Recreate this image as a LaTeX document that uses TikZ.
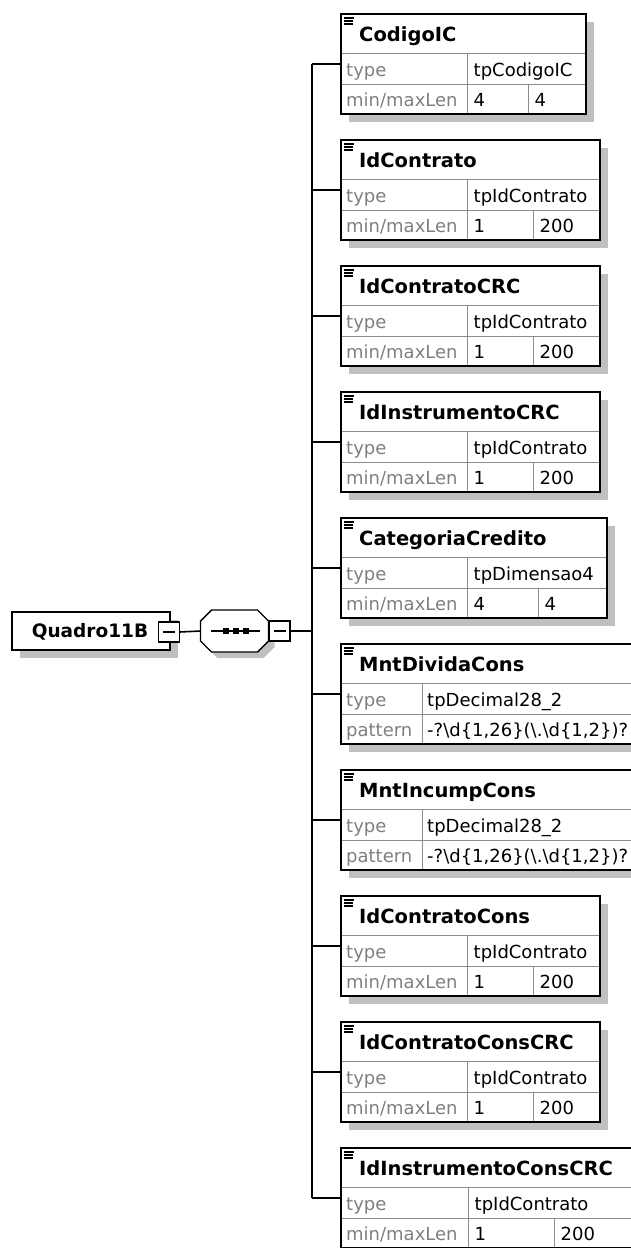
\documentclass[tikz,border=0pt]{standalone}
\usepackage{fontspec}
\setmainfont{DejaVu Sans}
\usetikzlibrary{calc}
\definecolor{shad}{HTML}{C0C0C0}
\definecolor{lblc}{HTML}{808080}
\definecolor{gridc}{HTML}{8C8C8C}
\tikzset{
  frameline/.style={draw=black, line width=1.6pt},
  gridline/.style={draw=gridc, line width=1pt},
  conn/.style={draw=black, line width=1.6pt},
  boxbase/.style={fill=white, anchor=north west, inner sep=0pt, outer sep=0pt},
  ttl/.style={anchor=base west, inner sep=0pt, font=\fontsize{19.5}{22}\selectfont\bfseries},
  lab/.style={anchor=base west, inner sep=0pt, text=lblc, font=\fontsize{18}{20}\selectfont},
  val/.style={anchor=base west, inner sep=0pt, text=black, font=\fontsize{18}{20}\selectfont},
  btn/.style={draw=black, line width=1.2pt, fill=white, minimum width=21pt, minimum height=20pt, inner sep=0pt, outer sep=0pt},
  iconline/.style={draw=black, line width=1.1pt},
}
% id top right col1 col2 title type min max
\newcommand\xsdbox[9]{%
  \fill[shad] (349,#2+8) rectangle (#3+8,#2+108);
  \node[boxbase, minimum width=#3-341, minimum height=100] (#1) at (341,#2) {};
  \draw[gridline] (341,#2+39) -- (#3,#2+39);
  \draw[gridline] (341,#2+70) -- (#3,#2+70);
  \draw[gridline] (#4,#2+39) -- (#4,#2+100);
  \draw[gridline] (#5,#2+70) -- (#5,#2+100);
  \draw[frameline] (#1.north west) rectangle (#1.south east);
  \draw[iconline] (344,#2+4) -- (354,#2+4) (344,#2+7) -- (353,#2+7) (344,#2+10) -- (353,#2+10);
  \node[ttl] (#1t) at (359,#2+27.5) {#6};
  \node[lab] (#1l1) at (346,#2+62.5) {type};
  \node[val] (#1v1) at (#4+6.5,#2+62.5) {#7};
  \node[lab] (#1l2) at (346,#2+92.5) {min/maxLen};
  \node[val] (#1v2) at (#4+6.5,#2+92.5) {#8};
  \node[val] (#1v3) at (#5+6.5,#2+92.5) {#9};
  \coordinate (#1c) at (312,#2+50);
  \draw[conn] (#1c) -- (#1c -| #1.west);
}
% id top right col1 title type pattern
\newcommand\xsdpat[7]{%
  \fill[shad] (349,#2+8) rectangle (#3+8,#2+108);
  \node[boxbase, minimum width=#3-341, minimum height=100] (#1) at (341,#2) {};
  \draw[gridline] (341,#2+39) -- (#3,#2+39);
  \draw[gridline] (341,#2+70) -- (#3,#2+70);
  \draw[gridline] (#4,#2+39) -- (#4,#2+100);
  \draw[frameline] (#1.north west) rectangle (#1.south east);
  \draw[iconline] (344,#2+4) -- (354,#2+4) (344,#2+7) -- (353,#2+7) (344,#2+10) -- (353,#2+10);
  \node[ttl] (#1t) at (359,#2+27.5) {#5};
  \node[lab] (#1l1) at (346,#2+62.5) {type};
  \node[val] (#1v1) at (#4+5,#2+62.5) {#6};
  \node[lab] (#1l2) at (346,#2+92.5) {pattern};
  \node[val] (#1v2) at (#4+5,#2+92.5) {#7};
  \coordinate (#1c) at (312,#2+50);
  \draw[conn] (#1c) -- (#1c -| #1.west);
}
\newcommand\patstr{-?\textbackslash d\{1,26\}(\textbackslash .\textbackslash d\{1,2\})?}
\begin{document}
\begin{tikzpicture}[x=1pt,y=-1pt]
\useasboundingbox (0,0) rectangle (630,1248);
\fill[white] (0,0) rectangle (630,1248);

\xsdbox{b1}{14}{586}{467}{528}{CodigoIC}{tpCodigoIC}{4}{4}
\xsdbox{b2}{140}{600}{467}{533}{IdContrato}{tpIdContrato}{1}{200}
\xsdbox{b3}{266}{600}{467}{533}{IdContratoCRC}{tpIdContrato}{1}{200}
\xsdbox{b4}{392}{600}{467}{533}{IdInstrumentoCRC}{tpIdContrato}{1}{200}
\xsdbox{b5}{518}{607}{467}{538}{CategoriaCredito}{tpDimensao4}{4}{4}
\xsdpat{b6}{644}{640}{422}{MntDividaCons}{tpDecimal28\_2}{\patstr}
\xsdpat{b7}{770}{640}{422}{MntIncumpCons}{tpDecimal28\_2}{\patstr}
\xsdbox{b8}{896}{600}{467}{533}{IdContratoCons}{tpIdContrato}{1}{200}
\xsdbox{b9}{1022}{600}{467}{533}{IdContratoConsCRC}{tpIdContrato}{1}{200}
\xsdbox{b10}{1148}{640}{468}{554}{IdInstrumentoConsCRC}{tpIdContrato}{1}{200}

% trunk
\draw[conn] (b1c) -- (b10c);

% root element
\fill[shad] (20,620) rectangle (178,658);
\node[boxbase, minimum width=158, minimum height=38] (root) at (12,612) {};
\draw[frameline] (root.north west) rectangle (root.south east);
\node[anchor=base, inner sep=0pt, font=\fontsize{18.5}{20}\selectfont\bfseries] (roottxt) at (90,637) {Quadro11B};

% sequence compositor
\node[minimum width=68, minimum height=42, inner sep=0pt, outer sep=0pt] (seq) at (234.5,631) {};
\fill[shad] ($(seq.north west)+(17,6)$) -- ($(seq.north east)+(-5,6)$) -- ($(seq.north east)+(6,17)$)
  -- ($(seq.south east)+(6,-5)$) -- ($(seq.south east)+(-5,6)$) -- ($(seq.south west)+(17,6)$)
  -- ($(seq.south west)+(6,-5)$) -- ($(seq.north west)+(6,17)$) -- cycle;
\draw[line width=1.4pt, fill=white] ($(seq.north west)+(11,0)$) -- ($(seq.north east)+(-11,0)$) -- ($(seq.north east)+(0,11)$)
  -- ($(seq.south east)+(0,-11)$) -- ($(seq.south east)+(-11,0)$) -- ($(seq.south west)+(11,0)$)
  -- ($(seq.south west)+(0,-11)$) -- ($(seq.north west)+(0,11)$) -- cycle;
\draw[line width=1.3pt] ($(seq.west)+(10,0)$) -- ($(seq.east)+(-9,0)$);
\foreach \dx in {226,236,246} \fill (\dx-2.8,628.2) rectangle (\dx+2.8,633.8);

% buttons and connectors
\node[btn] (rootbtn) at (169,632) {};
\draw[line width=1.2pt] ($(rootbtn.center)+(-6,0)$) -- ($(rootbtn.center)+(6,0)$);
\node[btn] (seqbtn) at (279.5,631) {};
\draw[line width=1.2pt] ($(seqbtn.center)+(-6,0)$) -- ($(seqbtn.center)+(6,0)$);
\draw[conn] (rootbtn.east) -- (seq.west);
\draw[conn] (seqbtn.east) -- (seqbtn.east -| b1c);
\end{tikzpicture}
\end{document}
